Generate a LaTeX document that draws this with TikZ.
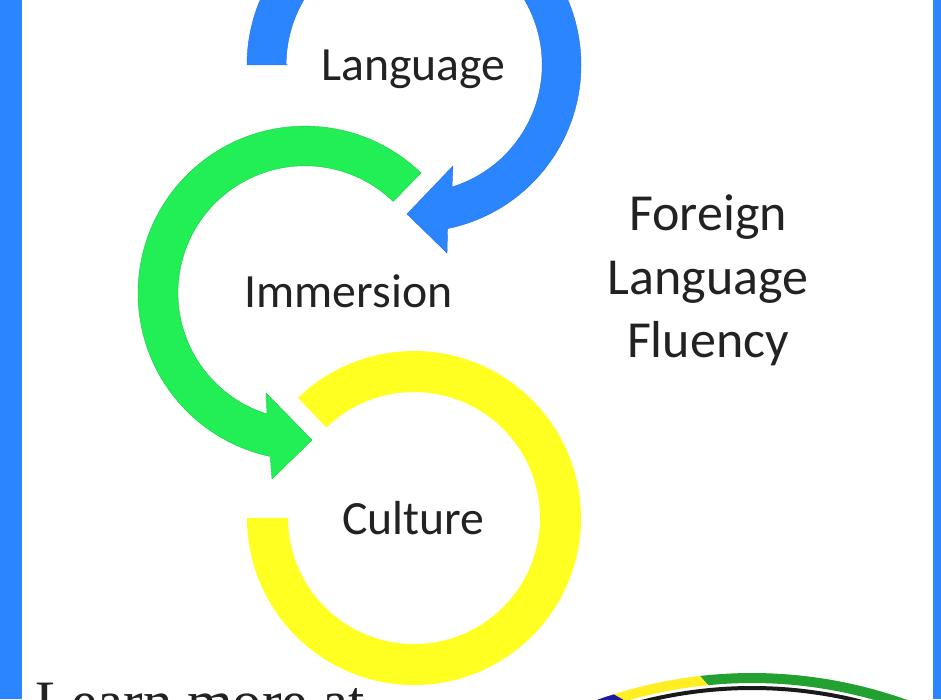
\documentclass[tikz,border=0pt]{standalone}
\usepackage{fontspec}
\setmainfont{Carlito}
\newfontfamily\learnfont{Liberation Serif}
\usetikzlibrary{calc}
\definecolor{bandblue}{HTML}{2A85FF}
\definecolor{bandgreen}{HTML}{22EE55}
\definecolor{bandyellow}{HTML}{FFFF22}
\definecolor{inkgray}{HTML}{222222}
\definecolor{badgegreen}{HTML}{22A030}
\definecolor{badgeyellow}{HTML}{FFEE22}
\definecolor{badgeblue}{HTML}{1A1A9A}
\tikzset{
  bandlabel/.style={text=inkgray,font=\fontsize{35.8}{42}\selectfont,inner sep=0pt,anchor=base},
  sidelabel/.style={text=inkgray,font=\fontsize{39}{47.6}\selectfont,inner sep=0pt,align=center}
}
\begin{document}
\begin{tikzpicture}[x=0.75pt,y=-0.75pt]
\useasboundingbox (0,0) rectangle (941,699);
\clip (0,0) rectangle (941,699);
\fill[white] (0,0) rectangle (941,699);
\fill[bandblue] (0,0) rectangle (22,699);
\fill[bandblue] (933,0) rectangle (941,699);

% language band
\filldraw[fill=bandblue,draw=bandblue!85!black,line width=0.3pt] (247,65) arc[start angle=180,end angle=438.4,radius=167]
  -- (447,253) -- (407,214) -- (453,166) -- (452,187)
  arc[start angle=432.8,end angle=180,radius=128] -- (288,65) -- cycle;
% immersion band
\filldraw[fill=bandgreen,draw=bandgreen!85!black,line width=0.3pt] (421,173) arc[start angle=-46,end angle=-258,radius=167]
  -- (272,479) -- (312,440) -- (266,393) -- (267,414)
  arc[start angle=-252.6,end angle=-46,radius=127] -- cycle;
% culture band
\fill[bandyellow] (247,518) arc[start angle=180,end angle=-134,radius=167]
  -- (326.5,427.4) arc[start angle=-134,end angle=180,radius=126] -- cycle;

\node[bandlabel] (language) at (413.5,80) {Language};
\node[bandlabel] (immersion) at (348.5,307) {Immersion};
\node[bandlabel] (culture) at (413.5,534) {Culture};
\node[sidelabel] (fluency) at (708,280.5) {Foreign\\Language\\Fluency};
\node[anchor=base west,inner sep=0pt,text=inkgray,font=\learnfont\fontsize{44}{50}\selectfont] (learn) at (35.5,721) {Learn more at};

% badge
\coordinate (badge) at (752,1133);
\fill[badgegreen] ($(badge)+(-96.5:460)$) arc[start angle=-96.5,end angle=-60,radius=460]
  -- ($(badge)+(-60:450)$) arc[start angle=-60,end angle=-95.6,radius=450] -- cycle;
\fill[badgeyellow] ($(badge)+(-107.5:460)$) arc[start angle=-107.5,end angle=-96.5,radius=460]
  -- ($(badge)+(-95.6:450)$) arc[start angle=-95.6,end angle=-106.3,radius=450] -- cycle;
\fill[badgeblue] ($(badge)+(-115:460)$) arc[start angle=-115,end angle=-107.5,radius=460]
  -- ($(badge)+(-106.3:450)$) arc[start angle=-106.3,end angle=-115,radius=450] -- cycle;
\draw[black!90,line width=3pt] ($(badge)+(-75:445)$) arc[start angle=-75,end angle=-105,radius=445];
\end{tikzpicture}
\end{document}
